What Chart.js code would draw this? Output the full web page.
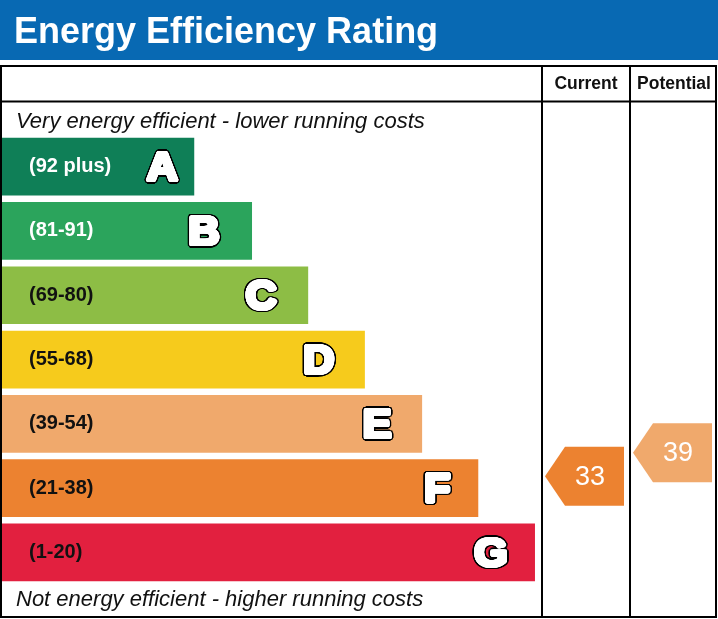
<!DOCTYPE html>
<html>
<head>
<meta charset="utf-8">
<title>Energy Efficiency Rating</title>
<script src="https://cdn.jsdelivr.net/npm/chart.js@4.4.1/dist/chart.umd.min.js"></script>
<style>
    html, body { margin: 0; padding: 0; background: #fff; }
    #wrap { width: 718px; height: 619px; position: relative; }
</style>
</head>
<body>
<div id="wrap"><canvas id="epc"></canvas></div>
<script>
// Bands, top (best) to bottom (worst)
const bandLetters = ['A', 'B', 'C', 'D', 'E', 'F', 'G'];
const bandRanges = ['(92 plus)', '(81-91)', '(69-80)', '(55-68)', '(39-54)', '(21-38)', '(1-20)'];
const bandLow = [92, 81, 69, 55, 39, 21, 1];
const bandHigh = [100, 91, 80, 68, 54, 38, 20];
// Bar length of each band, as a share of the rating column (0-100)
const bandLength = [35.6, 46.3, 56.7, 67.2, 77.8, 88.2, 98.7];
const bandColors = ['#0f7f57', '#2ba45c', '#8dbd45', '#f6cb1c', '#f0a96c', '#ec8230', '#e2203f'];
const bandTextColors = ['#ffffff', '#ffffff', '#111111', '#111111', '#111111', '#111111', '#111111'];

const currentRating = 33;
const potentialRating = 39;

const FONT = '"Liberation Sans", Arial, Helvetica, sans-serif';
const COL_CURRENT = 542;
const COL_POTENTIAL = 630;
const RIGHT_EDGE = 716;
// how far the letter centre sits in from the end of its bar
const letterInset = [32, 48, 47, 46, 45, 41, 44];

function bandIndexFor(v) {
    for (let i = 0; i < bandLow.length; i++) {
        if (v >= bandLow[i] && v <= bandHigh[i]) return i;
    }
    return v > 100 ? 0 : bandLow.length - 1;
}

// y of a rating: interpolated inside its band's bar
function ratingToY(chart, v) {
    const i = bandIndexFor(v);
    const bar = chart.getDatasetMeta(0).data[i];
    const bottom = bar.y + bar.height / 2;
    const frac = (v - bandLow[i]) / (bandHigh[i] - bandLow[i]);
    return bottom - frac * bar.height;
}

// fill the text repeatedly around a small circle -> fattened glyph without stroke artifacts
function fatText(ctx, txt, x, y, r, color) {
    ctx.fillStyle = color;
    const steps = 24;
    for (let k = 0; k < steps; k++) {
        const a = (k / steps) * Math.PI * 2;
        ctx.fillText(txt, x + Math.cos(a) * r, y + Math.sin(a) * r);
    }
    ctx.fillText(txt, x, y);
}

function drawArrow(ctx, tipX, rightX, cy, color, value) {
    const half = 29.5;
    const tipW = 20;
    ctx.save();
    ctx.fillStyle = color;
    ctx.beginPath();
    ctx.moveTo(tipX, cy);
    ctx.lineTo(tipX + tipW, cy - half);
    ctx.lineTo(rightX, cy - half);
    ctx.lineTo(rightX, cy + half);
    ctx.lineTo(tipX + tipW, cy + half);
    ctx.closePath();
    ctx.fill();
    ctx.fillStyle = '#ffffff';
    ctx.font = `27px ${FONT}`;
    ctx.textAlign = 'center';
    ctx.textBaseline = 'middle';
    ctx.fillText(String(value), rightX - 34, cy + 1);
    ctx.restore();
}

const epcFrame = {
    id: 'epcFrame',
    beforeDraw(chart) {
        const ctx = chart.ctx;
        const w = chart.width;
        ctx.save();
        ctx.fillStyle = '#ffffff';
        ctx.fillRect(0, 0, w, chart.height);
        // title band
        ctx.fillStyle = '#0869b3';
        ctx.fillRect(0, 0, w, 60);
        ctx.fillStyle = '#ffffff';
        ctx.font = `bold 36px ${FONT}`;
        ctx.textBaseline = 'alphabetic';
        ctx.fillText('Energy Efficiency Rating', 14, 43);
        ctx.restore();
    },
    afterDraw(chart) {
        const ctx = chart.ctx;
        const meta = chart.getDatasetMeta(0);
        ctx.save();

        // range labels and letters on the bars
        meta.data.forEach((bar, i) => {
            ctx.textBaseline = 'middle';
            ctx.textAlign = 'left';
            ctx.font = `bold 20px ${FONT}`;
            ctx.fillStyle = bandTextColors[i];
            ctx.fillText(bandRanges[i], 29, bar.y);

            // heavy, slightly widened white letter with a thin black outline
            ctx.save();
            ctx.translate(bar.x - letterInset[i], bar.y + 13.8);
            ctx.scale(1.08, 1);
            ctx.font = `bold 40px ${FONT}`;
            ctx.textAlign = 'center';
            ctx.textBaseline = 'alphabetic';
            fatText(ctx, bandLetters[i], 0, 0, 3.2, '#000000');
            fatText(ctx, bandLetters[i], 0, 0, 1.7, '#ffffff');
            ctx.restore();
        });

        // captions
        ctx.fillStyle = '#111111';
        ctx.textAlign = 'left';
        ctx.textBaseline = 'alphabetic';
        ctx.font = `italic 22px ${FONT}`;
        ctx.fillText('Very energy efficient - lower running costs', 16, 128);
        ctx.fillText('Not energy efficient - higher running costs', 16, 606);

        // column headers
        ctx.textAlign = 'center';
        ctx.font = `bold 17.5px ${FONT}`;
        ctx.fillText('Current', (COL_CURRENT + COL_POTENTIAL) / 2, 89);
        ctx.fillText('Potential', (COL_POTENTIAL + RIGHT_EDGE) / 2 + 1, 89);

        // grid lines
        ctx.strokeStyle = '#000000';
        ctx.lineWidth = 2;
        ctx.strokeRect(1, 66, RIGHT_EDGE - 1, 617 - 66);
        ctx.beginPath();
        ctx.moveTo(1, 101.5);
        ctx.lineTo(RIGHT_EDGE, 101.5);
        ctx.moveTo(COL_CURRENT, 66);
        ctx.lineTo(COL_CURRENT, 617);
        ctx.moveTo(COL_POTENTIAL, 66);
        ctx.lineTo(COL_POTENTIAL, 617);
        ctx.stroke();

        // rating arrows
        drawArrow(ctx, COL_CURRENT + 3, COL_POTENTIAL - 6, ratingToY(chart, currentRating),
            bandColors[bandIndexFor(currentRating)], currentRating);
        drawArrow(ctx, COL_POTENTIAL + 3, RIGHT_EDGE - 4, ratingToY(chart, potentialRating),
            bandColors[bandIndexFor(potentialRating)], potentialRating);

        ctx.restore();
    }
};

new Chart(document.getElementById('epc'), {
    type: 'bar',
    data: {
        labels: bandLetters,
        datasets: [{
            data: bandLength,
            backgroundColor: bandColors,
            borderWidth: 0,
            categoryPercentage: 1,
            barPercentage: 0.897
        }]
    },
    options: {
        indexAxis: 'y',
        responsive: true,
        maintainAspectRatio: false,
        animation: false,
        layout: { padding: { left: 2, right: 718 - COL_CURRENT, top: 134.5, bottom: 34.4 } },
        scales: {
            x: { display: false, min: 0, max: 100 },
            y: { display: false }
        },
        plugins: {
            legend: { display: false },
            tooltip: { enabled: false }
        }
    },
    plugins: [epcFrame]
});
</script>
</body>
</html>
